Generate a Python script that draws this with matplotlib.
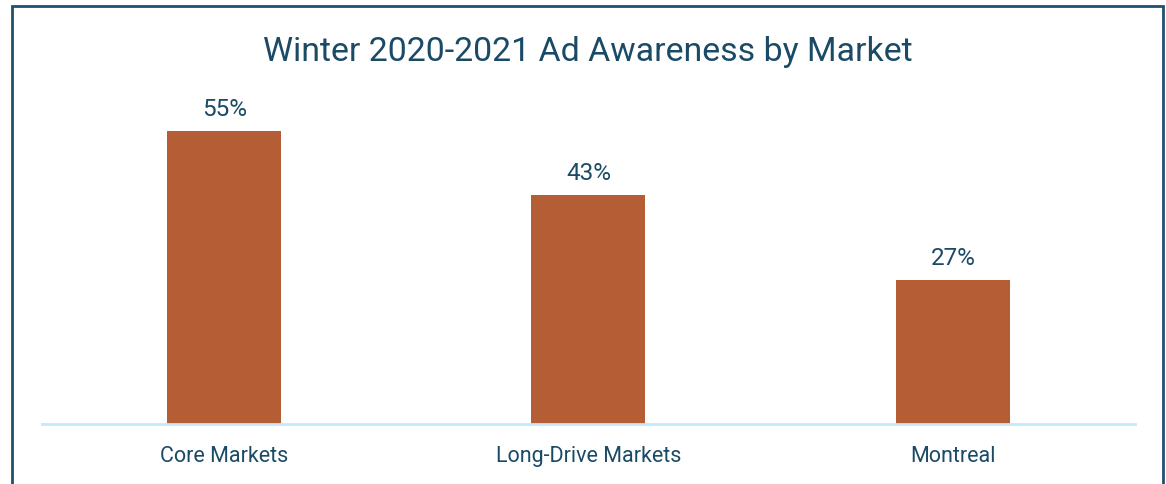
#!/usr/bin/env python3
"""Bar chart of winter 2020-2021 ad awareness by market."""

import matplotlib
matplotlib.use("Agg")
import matplotlib.pyplot as plt
from matplotlib.patches import Rectangle

markets = ["Core Markets", "Long-Drive Markets", "Montreal"]
awareness = [55, 43, 27]

BAR_COLOR = "#B55D34"
TEXT_COLOR = "#1B4A66"
FRAME_COLOR = "#1F5070"
BASE_COLOR = "#C4EAFA"

plt.rcParams["font.family"] = ["Roboto", "DejaVu Sans"]

fig = plt.figure(figsize=(11.66, 4.84), dpi=100)
ax = fig.add_axes([0.036, 0.124, 0.9374, 0.690])

x = range(len(markets))
bars = ax.bar(x, awareness, width=0.313, color=BAR_COLOR, zorder=2)
for rect, val in zip(bars, awareness):
    ax.annotate(f"{val}%", (rect.get_x() + rect.get_width() / 2, val),
                xytext=(0, 7), textcoords="offset points",
                ha="center", va="bottom", fontsize=17.5, color=TEXT_COLOR)

ax.set_xlim(-0.5, 2.5)
ax.set_ylim(0, 62.66)
ax.set_xticks(list(x))
ax.set_xticklabels(markets, fontsize=15.5, color=TEXT_COLOR)
ax.tick_params(axis="x", length=0, pad=16)
ax.set_yticks([])
for side in ["top", "right", "left"]:
    ax.spines[side].set_visible(False)
ax.spines["bottom"].set_color(BASE_COLOR)
ax.spines["bottom"].set_linewidth(2)

fig.text(0.504, 0.892, "Winter 2020-2021 Ad Awareness by Market",
         ha="center", va="center", fontsize=24.4, color=TEXT_COLOR)

# outer frame, open at the bottom edge
fig.patches.append(Rectangle((12 / 1166, -0.05), 1151 / 1166, 1.05 - 6 / 484,
                             transform=fig.transFigure, fill=False,
                             edgecolor=FRAME_COLOR, linewidth=2))

fig.savefig("out.png", dpi=100)
